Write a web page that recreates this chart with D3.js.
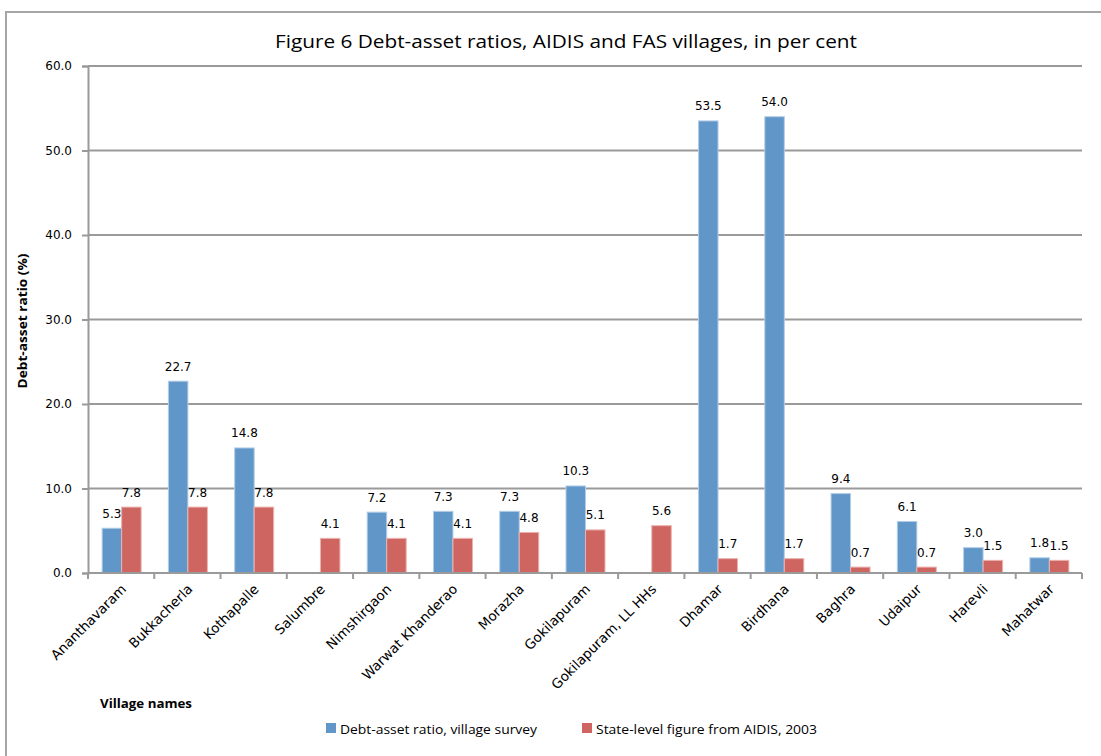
<!DOCTYPE html>
<html>
<head>
<meta charset="utf-8">
<script src="https://cdn.jsdelivr.net/npm/d3@7"></script>
<style>
  html, body { margin: 0; padding: 0; background: #fff; }
  svg { display: block; }
</style>
</head>
<body>
<svg id="chart" width="1101" height="756"></svg>
<script>
// Villages, in the order they appear along the category axis
const villages = [
  "Ananthavaram", "Bukkacherla", "Kothapalle", "Salumbre", "Nimshirgaon",
  "Warwat Khanderao", "Morazha", "Gokilapuram", "Gokilapuram, LL HHs",
  "Dhamar", "Birdhana", "Baghra", "Udaipur", "Harevli", "Mahatwar"
];
// Debt-asset ratio from the village surveys (null = no survey figure)
const surveyRatio = [5.3, 22.7, 14.8, null, 7.2, 7.3, 7.3, 10.3, null, 53.5, 54.0, 9.4, 6.1, 3.0, 1.8];
// State-level debt-asset ratio from AIDIS, 2003
const aidisRatio = [7.8, 7.8, 7.8, 4.1, 4.1, 4.1, 4.8, 5.1, 5.6, 1.7, 1.7, 0.7, 0.7, 1.5, 1.5];
const yTicks = [0, 10, 20, 30, 40, 50, 60];
const seriesNames = ["Debt-asset ratio, village survey", "State-level figure from AIDIS, 2003"];

const colors = { survey: "#6196C9", aidis: "#CF6560" };
const edges = { survey: "#b3cde8", aidis: "#eab3af" };

const svg = d3.select("#chart");
const plot = { left: 88, right: 1082, top: 66, bottom: 573 };

// Outer chart frame
svg.append("path")
  .attr("d", `M6,756 L6,12 L1101,12`)
  .attr("fill", "none").attr("stroke", "#a6a6a6").attr("stroke-width", 2);

// Title
svg.append("text")
  .attr("x", 566).attr("y", 48)
  .attr("text-anchor", "middle")
  .attr("font-family", "'Open Sans', 'Noto Sans', sans-serif")
  .attr("font-size", 19)
  .attr("fill", "#000")
  .attr("textLength", 582).attr("lengthAdjust", "spacingAndGlyphs")
  .text("Figure 6 Debt-asset ratios, AIDIS and FAS villages, in per cent");

const x = d3.scaleBand().domain(villages).range([plot.left, plot.right]).paddingInner(0).paddingOuter(0);
const y = d3.scaleLinear().domain([0, 60]).range([plot.bottom, plot.top]);

const barW = 19.5;
const rows = villages.map((v, i) => ({ v, survey: surveyRatio[i], aidis: aidisRatio[i] }));

// Horizontal gridlines
svg.append("g").selectAll("line").data(yTicks.filter(t => t > 0)).join("line")
  .attr("x1", plot.left).attr("x2", plot.right)
  .attr("y1", d => y(d)).attr("y2", d => y(d))
  .attr("stroke", "#9a9a9a").attr("stroke-width", 2);

// Y axis
const yAxis = d3.axisLeft(y).tickValues(yTicks).tickFormat(d3.format(".1f")).tickSizeOuter(0).tickSize(6).tickPadding(10);
const gy = svg.append("g").attr("transform", `translate(${plot.left},0)`).call(yAxis);
gy.select(".domain").attr("stroke", "#9a9a9a").attr("stroke-width", 2);
gy.selectAll(".tick line").attr("stroke", "#9a9a9a").attr("stroke-width", 2);
gy.selectAll(".tick text")
  .attr("font-family", "'DejaVu Sans', sans-serif").attr("font-size", 12).attr("fill", "#000");

// Bars
const groups = svg.append("g").selectAll("g").data(rows).join("g")
  .attr("transform", d => `translate(${x(d.v) + x.bandwidth() / 2 + 0.5},0)`);

groups.filter(d => d.survey != null).append("rect")
  .attr("x", -barW).attr("width", barW)
  .attr("y", d => y(d.survey)).attr("height", d => y(0) - y(d.survey))
  .attr("fill", colors.survey).attr("stroke", edges.survey).attr("stroke-width", 1);

groups.append("rect")
  .attr("x", 0).attr("width", barW)
  .attr("y", d => y(d.aidis)).attr("height", d => y(0) - y(d.aidis))
  .attr("fill", colors.aidis).attr("stroke", edges.aidis).attr("stroke-width", 1);

// X axis (drawn over bar bottoms)
const gx = svg.append("g").attr("transform", `translate(0,${plot.bottom})`);
gx.append("line").attr("x1", plot.left).attr("x2", plot.right)
  .attr("stroke", "#9a9a9a").attr("stroke-width", 2);
const boundaries = villages.map(v => x(v)).concat([plot.right]);
gx.selectAll("line.tk").data(boundaries).join("line").attr("class", "tk")
  .attr("x1", d => d).attr("x2", d => d).attr("y1", 0).attr("y2", 6)
  .attr("stroke", "#9a9a9a").attr("stroke-width", 2);

// Rotated village labels
gx.selectAll("text").data(villages).join("text")
  .attr("transform", d => `translate(${x(d) + x.bandwidth() / 2 + 6},${17}) rotate(-45)`)
  .attr("text-anchor", "end")
  .attr("font-family", "'DejaVu Sans', sans-serif")
  .attr("font-size", 13.5)
  .attr("fill", "#000")
  .text(d => d);

// Value labels
const labelFont = "'DejaVu Sans', sans-serif";
groups.filter(d => d.survey != null).append("text")
  .attr("x", -barW / 2).attr("y", d => y(d.survey) - 10.5)
  .attr("text-anchor", "middle").attr("font-family", labelFont).attr("font-size", 12).attr("fill", "#000")
  .text(d => d3.format(".1f")(d.survey));
groups.append("text")
  .attr("x", barW / 2).attr("y", d => y(d.aidis) - 10.5)
  .attr("text-anchor", "middle").attr("font-family", labelFont).attr("font-size", 12).attr("fill", "#000")
  .text(d => d3.format(".1f")(d.aidis));

// Axis titles
svg.append("text")
  .attr("transform", `translate(27,321) rotate(-90)`)
  .attr("text-anchor", "middle")
  .attr("font-family", "'Open Sans', 'Noto Sans', sans-serif")
  .attr("font-weight", "bold").attr("font-size", 13)
  .attr("textLength", 135).attr("lengthAdjust", "spacingAndGlyphs")
  .text("Debt-asset ratio (%)");

svg.append("text")
  .attr("x", 100).attr("y", 708)
  .attr("font-family", "'Open Sans', 'Noto Sans', sans-serif")
  .attr("font-weight", "bold").attr("font-size", 13)
  .attr("textLength", 92).attr("lengthAdjust", "spacingAndGlyphs")
  .text("Village names");

// Legend
const legend = svg.append("g");
const legendItems = [
  { name: seriesNames[0], color: colors.survey, x: 326, len: 197 },
  { name: seriesNames[1], color: colors.aidis, x: 582, len: 221 }
];
const li = legend.selectAll("g").data(legendItems).join("g")
  .attr("transform", d => `translate(${d.x},723)`);
li.append("rect").attr("width", 10).attr("height", 10).attr("fill", d => d.color);
li.append("text").attr("x", 14).attr("y", 10.5)
  .attr("font-family", "'Open Sans', 'Noto Sans', sans-serif")
  .attr("font-size", 13.5).attr("fill", "#000")
  .attr("textLength", d => d.len).attr("lengthAdjust", "spacingAndGlyphs")
  .text(d => d.name);
</script>
</body>
</html>
